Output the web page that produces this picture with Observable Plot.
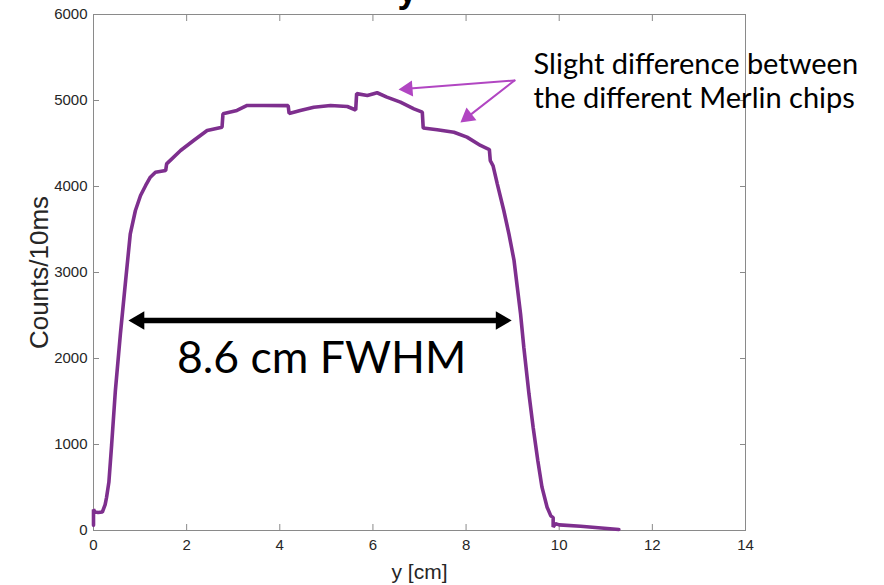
<!DOCTYPE html>
<html>
<head>
<meta charset="utf-8">
<script src="https://cdn.jsdelivr.net/npm/d3@7"></script>
<script src="https://cdn.jsdelivr.net/npm/@observablehq/plot@0.6"></script>
<style>
  html, body { margin: 0; padding: 0; background: white; }
</style>
</head>
<body>
<div id="chart"></div>
<script>
// Profile readings: position y [cm] and counts per 10 ms
const yCm = [0, 0, 0.03, 0.1, 0.19, 0.25, 0.28, 0.33, 0.39, 0.47,
  0.58, 0.69, 0.79, 0.90, 1.01, 1.12, 1.22, 1.33, 1.55, 1.57,
  1.87, 2.15, 2.44, 2.76, 2.78, 3.08, 3.30, 3.66, 4.18, 4.20,
  4.44, 4.73, 5.09, 5.45, 5.63, 5.65, 5.88, 6.09, 6.30, 6.59,
  6.88, 7.06, 7.08, 7.38, 7.74, 8.02, 8.31, 8.50, 8.52, 8.58,
  8.67, 8.81, 8.92, 9.03, 9.10, 9.17, 9.24, 9.35, 9.44, 9.54,
  9.63, 9.74, 9.82, 9.87, 9.87, 9.92, 10.0, 10.46, 11.28];
const counts = [60, 245, 215, 210, 215, 300, 384, 560, 1000, 1628,
  2300, 2907, 3450, 3721, 3895, 4012, 4108, 4166, 4186, 4263,
  4419, 4535, 4651, 4690, 4845, 4884, 4942, 4942, 4940, 4850,
  4884, 4922, 4942, 4930, 4890, 5080, 5058, 5090, 5039, 4981,
  4903, 4864, 4680, 4659, 4631, 4574, 4477, 4430, 4300, 4240,
  4031, 3721, 3450, 3140, 2829, 2519, 2131, 1589, 1201, 814,
  504, 271, 170, 150, 40, 80, 65, 50, 12];

const xTicks = [0, 2, 4, 6, 8, 10, 12, 14];
const yTicks = [0, 1000, 2000, 3000, 4000, 5000, 6000];

// FWHM annotation
const fwhmStart = [0.75];
const fwhmEnd = [8.98];
const fwhmLevel = [2442];
const fwhmLabel = ["8.6 cm FWHM"];
const fwhmLabelX = [4.9];
const fwhmLabelY = [2000];

// Chip annotation
const noteText = ["Slight difference between\nthe different Merlin chips"];
const noteX = [9.45];
const noteY = [5600];
const pointerFromX = [9.04, 9.04];
const pointerFromY = [5233, 5233];
const pointerToX = [6.55, 7.88];
const pointerToY = [5128, 4744];
const pointerAngle = [-94.4, -127.9];

const titleText = ["y"];

const profile = yCm.map((x, i) => ({x, c: counts[i]}));
const pointers = pointerFromX.map((x, i) => ({x1: x, y1: pointerFromY[i], x2: pointerToX[i], y2: pointerToY[i], a: pointerAngle[i]}));

const lineColor = "#7e2f8e";
const noteColor = "#b146c2";
const axisColor = "#8a8a8a";
const fmt = d3.format("d");

const chart = Plot.plot({
  width: 884,
  height: 585,
  marginTop: 14,
  marginRight: 139,
  marginBottom: 55,
  marginLeft: 93,
  style: {fontFamily: "'Liberation Sans', Arial, sans-serif", fontSize: "15px", color: "#262626", background: "white", overflow: "visible"},
  x: {domain: [0, 14], label: null},
  y: {domain: [0, 6000], label: null},
  marks: [
    Plot.frame({stroke: axisColor}),
    Plot.axisX(xTicks, {anchor: "bottom", tickSize: -6, tickPadding: 15, tickFormat: fmt, stroke: axisColor, fill: "#262626", label: null, fontSize: 15}),
    Plot.axisX(xTicks, {anchor: "top", tickSize: -6, tickFormat: () => "", stroke: axisColor, label: null}),
    Plot.axisY(yTicks, {anchor: "left", tickSize: -6, tickPadding: 12, tickFormat: fmt, stroke: axisColor, fill: "#262626", label: null, fontSize: 15}),
    Plot.axisY(yTicks, {anchor: "right", tickSize: -6, tickFormat: () => "", stroke: axisColor, label: null}),
    Plot.text(["y [cm]"], {frameAnchor: "bottom", dy: 42, lineAnchor: "middle", textAnchor: "middle", fontSize: 21, fill: "#262626"}),
    Plot.text(["Counts/10ms"], {frameAnchor: "left", dx: -54, rotate: -90, textAnchor: "middle", lineAnchor: "middle", fontSize: 26, fill: "#262626"}),
    Plot.text(titleText, {frameAnchor: "top", dx: -12, dy: -13, lineAnchor: "bottom", fontSize: 36, fontWeight: "bold", fill: "black"}),
    Plot.line(profile, {x: "x", y: "c", stroke: lineColor, strokeWidth: 3.6, strokeLinejoin: "miter"}),
    // FWHM double arrow
    Plot.arrow(fwhmStart, {x1: d => d, x2: (d, i) => fwhmEnd[i], y1: (d, i) => fwhmLevel[i], y2: (d, i) => fwhmLevel[i], headLength: 0, insetStart: 10, insetEnd: 10, stroke: "black", strokeWidth: 5.5}),
    Plot.dot(fwhmStart, {x: d => d, y: (d, i) => fwhmLevel[i], symbol: "triangle", r: 6.8, fill: "black", rotate: -90, dx: 10.6}),
    Plot.dot(fwhmEnd, {x: d => d, y: (d, i) => fwhmLevel[i], symbol: "triangle", r: 6.8, fill: "black", rotate: 90, dx: -10.6}),
    Plot.text(fwhmLabel, {x: (d, i) => fwhmLabelX[i], y: (d, i) => fwhmLabelY[i], fontFamily: "Lato", fontSize: 44.5, fill: "black"}),
    // chip note
    Plot.arrow(pointers, {x1: "x1", y1: "y1", x2: "x2", y2: "y2", headLength: 0, insetEnd: 8, stroke: noteColor, strokeWidth: 2}),
    Plot.dot([pointers[0]], {x: "x2", y: "y2", symbol: "triangle", r: 6, fill: noteColor, rotate: "a", dx: 9.3, dy: -0.7}),
    Plot.dot([pointers[1]], {x: "x2", y: "y2", symbol: "triangle", r: 6, fill: noteColor, rotate: "a", dx: 7.3, dy: -5.7}),
    Plot.text(noteText, {x: (d, i) => noteX[i], y: (d, i) => noteY[i], textAnchor: "start", lineAnchor: "top", lineHeight: 1.2, fontFamily: "Lato", fontSize: 29, fill: "black"})
  ]
});
document.getElementById("chart").appendChild(chart);
</script>
</body>
</html>
